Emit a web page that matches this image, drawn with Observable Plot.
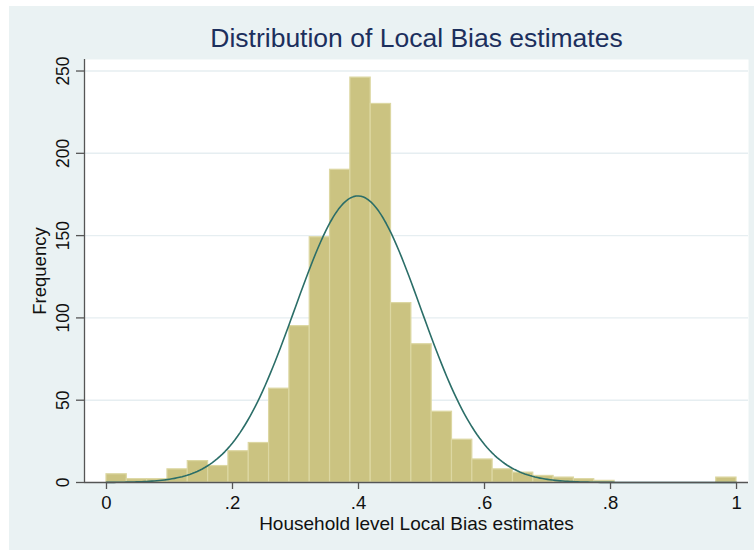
<!DOCTYPE html>
<html><head><meta charset="utf-8">
<script src="https://cdn.jsdelivr.net/npm/d3@7"></script>
<script src="https://cdn.jsdelivr.net/npm/@observablehq/plot@0.6"></script>
<style>
html,body{margin:0;padding:0;background:#fff;}
#wrap{padding:6px 0 0 9px;width:745px;height:544px;}
svg{display:block;}
</style></head><body><div id="wrap"></div>
<script>
// Histogram counts (31 bins over [0, 1])
const counts = [5,2,2,8,13,10,19,24,57,95,149,190,246,230,109,84,43,26,14,8,6,4,3,2,1,0,0,0,0,0,3];
const dataMin = 0, dataMax = 1.0;
// Fitted normal parameters
const fitMean = 0.399, fitSd = 0.100;
const yTicks = [0,50,100,150,200,250];
const xTicks = [0,0.2,0.4,0.6,0.8,1];
const xTickLabels = ["0",".2",".4",".6",".8","1"];
const titleText = "Distribution of Local Bias estimates";
const xLabel = "Household level Local Bias estimates";
const yLabel = "Frequency";

const nBins = counts.length;
const binW = (dataMax - dataMin) / nBins;
const N = d3.sum(counts);
const bins = counts.map((c,i)=>({x1: dataMin + i*binW, x2: dataMin + (i+1)*binW, count: c}));
const curve = d3.range(dataMin, dataMax + 1e-9, 0.004).map(x=>({x, y: N*binW*Math.exp(-0.5*((x-fitMean)/fitSd)**2)/(fitSd*Math.sqrt(2*Math.PI))}));

const x0 = -0.0349, x1 = 1.019;
const axisCol = "#555555";
const chart = Plot.plot({
  width: 745, height: 544,
  marginLeft: 75, marginRight: 6, marginTop: 53, marginBottom: 68,
  style: {background: "#eaf2f3", fontFamily: "'Liberation Sans', Arial, sans-serif", color: "#111"},
  x: {type: "linear", domain: [x0, x1]},
  y: {type: "linear", domain: [0, 257]},
  marks: [
    Plot.frame({fill: "white", stroke: null}),
    Plot.gridY(yTicks.slice(1), {stroke: "#e6eef1", strokeOpacity: 1, strokeWidth: 1.4}),
    Plot.rectY(bins, {x1: "x1", x2: "x2", y: "count", fill: "#cbc381", stroke: "#dcd7a2", strokeWidth: 1.2}),
    Plot.line(curve, {x: "x", y: "y", stroke: "#2b6e68", strokeWidth: 1.6}),
    Plot.ruleY([0], {stroke: axisCol, strokeWidth: 1.3}),
    Plot.ruleX([x0], {stroke: axisCol, strokeWidth: 1.3}),
    Plot.axisY(yTicks, {tickSize: 8, tickFormat: () => "", stroke: axisCol, strokeWidth: 1.3, label: null}),
    Plot.axisX(xTicks, {tickSize: 7, tickFormat: () => "", stroke: axisCol, strokeWidth: 1.3, label: null}),
    Plot.text(yTicks, {y: d=>d, frameAnchor: "left", dx: -21, rotate: -90, textAnchor: "middle", lineAnchor: "middle", text: d=>String(d), fontSize: 17.5, fill: "#111"}),
    Plot.text(xTicks, {x: d=>d, frameAnchor: "bottom", dy: 21, textAnchor: "middle", lineAnchor: "middle", text: (d,i)=>xTickLabels[i], fontSize: 18.5, fill: "#111"}),
    Plot.text([titleText], {frameAnchor: "top", dy: -21, textAnchor: "middle", lineAnchor: "middle", text: d=>d, fontSize: 26.5, fill: "#1c2f5d"}),
    Plot.text([xLabel], {frameAnchor: "bottom", dy: 41, textAnchor: "middle", lineAnchor: "middle", text: d=>d, fontSize: 19, fill: "#111"}),
    Plot.text([yLabel], {frameAnchor: "left", dx: -44, rotate: -90, textAnchor: "middle", lineAnchor: "middle", text: d=>d, fontSize: 18.5, fill: "#111"})
  ]
});
document.getElementById("wrap").appendChild(chart);
</script></body></html>
